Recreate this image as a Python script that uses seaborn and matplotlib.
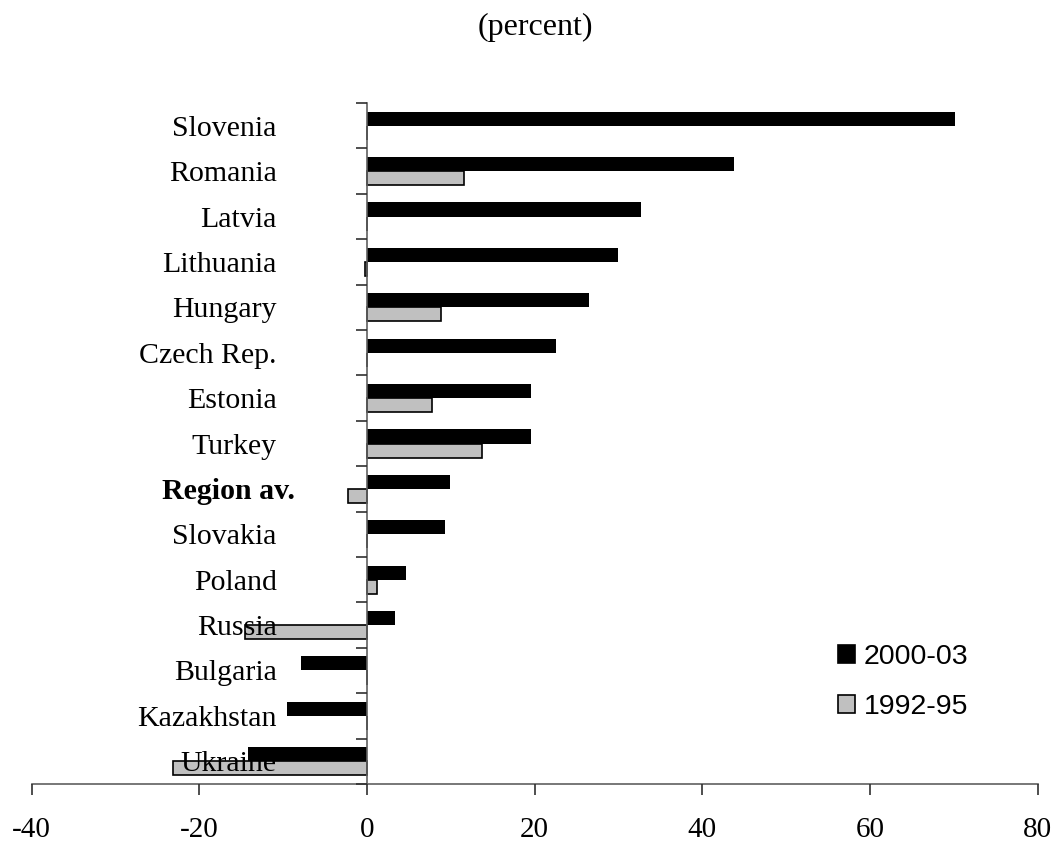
import pandas as pd
import matplotlib
matplotlib.use("Agg")
import matplotlib.pyplot as plt
import matplotlib.transforms as mtransforms
from matplotlib.patches import Patch
import seaborn as sns

countries = ["Slovenia", "Romania", "Latvia", "Lithuania", "Hungary", "Czech Rep.",
             "Estonia", "Turkey", "Region av.", "Slovakia", "Poland", "Russia",
             "Bulgaria", "Kazakhstan", "Ukraine"]
growth_2000_03 = [70.2, 43.8, 32.7, 29.9, 26.5, 22.5, 19.6, 19.6, 9.9, 9.3, 4.6, 3.3, -7.9, -9.6, -14.2]
growth_1992_95 = [0.0, 11.6, 0.0, -0.25, 8.8, 0.0, 7.7, 13.7, -2.3, 0.0, 1.2, -14.5, 0.0, 0.0, -23.1]
periods = ["2000-03", "1992-95"]
colors = ["#000000", "#C0C0C0"]

df = pd.DataFrame({
    "Country": countries * 2,
    "Value": growth_2000_03 + growth_1992_95,
    "Period": [periods[0]] * len(countries) + [periods[1]] * len(countries),
})

sns.set_style("ticks")
plt.rcParams["font.family"] = ["Liberation Serif", "DejaVu Serif"]
plt.rcParams["axes.unicode_minus"] = False
plt.rcParams["text.color"] = "black"
plt.rcParams["xtick.labelcolor"] = "black"
plt.rcParams["ytick.labelcolor"] = "black"

fig = plt.figure(figsize=(10.61, 8.48), dpi=100)
ax = fig.add_axes([0.0299, 0.0755, 0.948, 0.803])

sns.barplot(df, x="Value", y="Country", hue="Period", hue_order=periods,
            palette=colors, order=countries, orient="y", width=0.62,
            edgecolor="black", linewidth=1.2, legend=False, ax=ax)

# black bars have no visible outline
for bar in ax.containers[0]:
    bar.set_linewidth(0)

ax.set_axisbelow(False)
ax.set_xlim(-40, 80)
ax.set_ylim(len(countries) - 0.5, -0.5)
ax.set_xlabel("")
ax.set_ylabel("")

for side in ["top", "right"]:
    ax.spines[side].set_visible(False)
ax.spines["left"].set_position(("data", 0))
for side in ["left", "bottom"]:
    ax.spines[side].set_color("#606060")
    ax.spines[side].set_linewidth(1.2)

ax.set_xticks([-40, -20, 0, 20, 40, 60, 80])
ax.tick_params(axis="x", bottom=True, direction="out", length=8, width=1.2, color="#303030",
               labelsize=21, pad=16)

ax.set_yticks(range(len(countries)))
ax.set_yticklabels(countries)
ax.set_yticks([i - 0.5 for i in range(len(countries) + 1)], minor=True)
ax.tick_params(axis="y", which="major", left=True, length=0, labelsize=21.5, pad=65)
ax.tick_params(axis="y", which="minor", left=True, direction="out", length=8, width=1.2, color="#303030")
for lbl in ax.get_yticklabels():
    lbl.set_horizontalalignment("right")
    if lbl.get_text() == "Region av.":
        lbl.set_fontweight("bold")
        lbl.set_transform(lbl.get_transform() + mtransforms.ScaledTranslation(18 / 100, 0, fig.dpi_scale_trans))

handles = [Patch(facecolor=colors[0], edgecolor="black", linewidth=1.2),
           Patch(facecolor=colors[1], edgecolor="black", linewidth=1.2)]
ax.legend(handles, periods, loc="center left", bbox_to_anchor=(838 / 1061, 1 - 682 / 848),
          bbox_transform=fig.transFigure, frameon=False, borderpad=0, borderaxespad=0,
          prop={"family": "Liberation Sans", "size": 20.5}, handlelength=0.6, handleheight=0.6,
          handletextpad=0.3, labelspacing=0.85)

fig.text(535 / 1061, 1 - 27 / 848, "(percent)", ha="center", va="center", fontsize=23)

plt.savefig("out.png", dpi=100)
